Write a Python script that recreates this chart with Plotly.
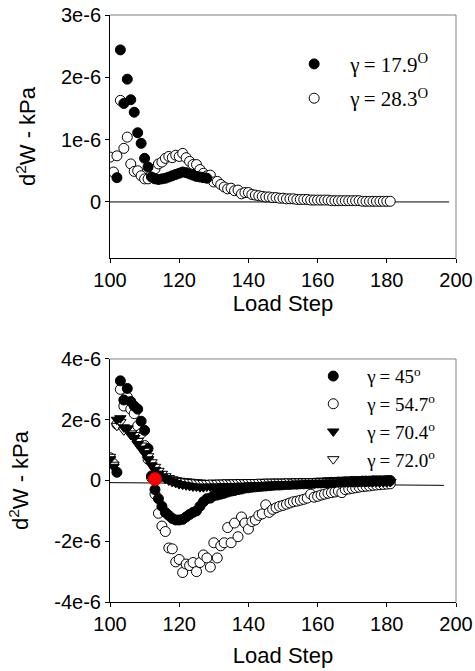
import plotly.graph_objects as go
from plotly.subplots import make_subplots

# ---------------- data (values in units of 1e-6 kPa) ----------------
top_x_179 = list(range(102, 129))
top_y_179 = [0.39, 2.44, 1.58, 1.97, 1.64, 1.44, 1.11, 0.94, 0.70, 0.56, 0.40, 0.37,
             0.36, 0.37, 0.38, 0.40, 0.42, 0.44, 0.46, 0.48, 0.47, 0.45, 0.43, 0.41,
             0.40, 0.39, 0.38]

top_x_283 = list(range(100, 182))
top_y_283 = [0.72, 0.48, 0.74, 1.63, 0.86, 1.04, 0.61, 0.49, 0.50, 0.42, 0.37, 0.37,
             0.44, 0.53, 0.61, 0.64, 0.70, 0.73, 0.71, 0.75, 0.73, 0.78, 0.71, 0.65,
             0.60, 0.60, 0.52, 0.46, 0.42, 0.43, 0.32, 0.33, 0.28, 0.24, 0.21, 0.22,
             0.18, 0.19, 0.13, 0.15, 0.15, 0.12, 0.11, 0.10, 0.09, 0.08, 0.08, 0.07,
             0.07, 0.06, 0.06, 0.05, 0.05, 0.05, 0.04, 0.04, 0.04, 0.04, 0.03, 0.03,
             0.03, 0.03, 0.03, 0.03, 0.02, 0.02, 0.02, 0.02, 0.02, 0.02, 0.02, 0.02,
             0.02, 0.01, 0.01, 0.01, 0.01, 0.01, 0.01, 0.01, 0.01, 0.01]

bot_x_45 = list(range(102, 182))
bot_y_45 = [0.27, 3.28, 2.65, 3.03, 2.60, 2.45, 2.35, 1.95, 1.65, 1.05, 0.15, -0.30,
            -0.60, -0.85, -1.05, -1.15, -1.25, -1.30, -1.30, -1.28, -1.20, -1.12, -1.05, -1.00,
            -0.85, -0.70, -0.60, -0.58, -0.50, -0.48, -0.45, -0.42, -0.38, -0.35, -0.33, -0.30,
            -0.28, -0.25, -0.24, -0.22, -0.21, -0.20, -0.19, -0.18, -0.17, -0.16, -0.15, -0.15,
            -0.14, -0.13, -0.13, -0.12, -0.12, -0.11, -0.11, -0.10, -0.10, -0.09, -0.08, -0.08,
            -0.07, -0.07, -0.06, -0.06, -0.05, -0.05, -0.04, -0.04, -0.03, -0.03, -0.03, -0.02,
            -0.02, -0.02, -0.01, -0.01, -0.01, -0.01, 0.00, 0.00]

bot_x_547 = list(range(100, 182))
bot_y_547 = [0.75, 0.55, 1.85, 3.00, 2.45, 2.75, 2.35, 2.20, 1.80, 1.55, 1.15, 0.70,
             0.10, -0.45, -1.08, -1.50, -1.68, -2.22, -2.25, -2.68, -2.60, -3.03, -2.75, -2.80,
             -2.70, -3.00, -2.70, -2.45, -2.55, -2.85, -2.05, -2.55, -2.15, -2.05, -1.55, -2.05,
             -1.40, -1.85, -1.20, -1.40, -1.60, -1.35, -1.30, -1.15, -1.10, -0.80, -1.05, -0.95,
             -0.90, -0.85, -0.82, -0.78, -0.74, -0.70, -0.68, -0.65, -0.62, -0.58, -0.45, -0.55,
             -0.52, -0.48, -0.45, -0.42, -0.40, -0.38, -0.35, -0.40, -0.30, -0.28, -0.26, -0.24,
             -0.22, -0.20, -0.19, -0.18, -0.16, -0.15, -0.14, -0.13, -0.12, -0.11]

bot_x_704 = list(range(100, 182))
bot_y_704 = [0.70, 0.45, 2.00, 2.05, 1.75, 1.70, 1.50, 1.40, 1.20, 1.05, 0.90, 0.70,
             0.50, 0.35, 0.22, 0.12, 0.05, 0.00, -0.05, -0.08, -0.12, -0.14, -0.16, -0.18,
             -0.20, -0.20, -0.22, -0.22, -0.20, -0.20, -0.22, -0.20, -0.20, -0.19, -0.20, -0.19,
             -0.18, -0.18, -0.17, -0.18, -0.17, -0.16, -0.16, -0.15, -0.15, -0.14, -0.14, -0.13,
             -0.13, -0.12, -0.12, -0.12, -0.11, -0.11, -0.10, -0.10, -0.10, -0.09, -0.09, -0.09,
             -0.08, -0.08, -0.08, -0.07, -0.07, -0.07, -0.07, -0.06, -0.06, -0.06, -0.06, -0.06,
             -0.05, -0.05, -0.05, -0.05, -0.05, -0.05, -0.05, -0.05, -0.05, -0.05]

bot_x_720 = list(range(100, 182))
bot_y_720 = [0.78, 0.52, 1.80, 1.92, 1.65, 1.72, 1.55, 1.50, 1.30, 1.15, 0.98, 0.80,
             0.60, 0.45, 0.32, 0.22, 0.14, 0.08, 0.04, 0.01, -0.01, -0.02, -0.03, -0.04,
             -0.05, -0.06, -0.07, -0.08, -0.08, -0.08, -0.07, -0.08, -0.07, -0.07, -0.06, -0.07,
             -0.06, -0.06, -0.05, -0.06, -0.05, -0.05, -0.05, -0.05, -0.04, -0.05, -0.04, -0.04,
             -0.04, -0.04, -0.04, -0.04, -0.03, -0.04, -0.03, -0.03, -0.03, -0.03, -0.03, -0.03,
             -0.03, -0.03, -0.03, -0.03, -0.03, -0.03, -0.03, -0.03, -0.03, -0.03, -0.03, -0.03,
             -0.04, -0.04, -0.04, -0.04, -0.04, -0.04, -0.05, -0.05, -0.05, -0.05]

red_x = [113]
red_y = [0.05]

x_ticks = [100, 120, 140, 160, 180, 200]
top_yticks = [0, 1, 2, 3]
top_yticktext = ["0", "1e-6", "2e-6", "3e-6"]
bot_yticks = [-4, -2, 0, 2, 4]
bot_yticktext = ["-4e-6", "-2e-6", "0", "2e-6", "4e-6"]
top_zero_line = [(100, 0.0), (198, 0.0)]
bot_zero_line = [(100, -0.07), (196.5, -0.16)]

names_top = ["γ\u2009= 17.9<sup>O</sup>", "γ\u2009= 28.3<sup>O</sup>"]
names_bot = ["γ\u2009= 45<sup>o</sup>", "γ\u2009= 54.7<sup>o</sup>",
             "γ\u2009= 70.4<sup>o</sup>", "γ\u2009= 72.0<sup>o</sup>"]

# ---------------- figure ----------------
fig = make_subplots(rows=2, cols=1, vertical_spacing=0.172)

def sc(y):
    return [v * 1e-6 for v in y]

filled = dict(color="black", size=10, line=dict(color="black", width=1))
opened = dict(color="white", size=10, line=dict(color="black", width=1))

fig.add_trace(go.Scatter(x=top_x_283, y=sc(top_y_283), mode="markers",
                         marker=dict(symbol="circle", **opened),
                         name=names_top[1], legend="legend", legendgroup="b",
                         legendrank=2), 1, 1)
fig.add_trace(go.Scatter(x=top_x_179, y=sc(top_y_179), mode="markers",
                         marker=dict(symbol="circle", **filled),
                         name=names_top[0], legend="legend", legendgroup="a",
                         legendrank=1), 1, 1)

fig.add_trace(go.Scatter(x=bot_x_547, y=sc(bot_y_547), mode="markers",
                         marker=dict(symbol="circle", **opened),
                         name=names_bot[1], legend="legend2", legendgroup="d",
                         legendrank=2), 2, 1)
fig.add_trace(go.Scatter(x=bot_x_45, y=sc(bot_y_45), mode="markers",
                         marker=dict(symbol="circle", **filled),
                         name=names_bot[0], legend="legend2", legendgroup="c",
                         legendrank=1), 2, 1)
fig.add_trace(go.Scatter(x=bot_x_720, y=sc(bot_y_720), mode="markers",
                         marker=dict(symbol="triangle-down", **opened),
                         name=names_bot[3], legend="legend2", legendgroup="f",
                         legendrank=4), 2, 1)
fig.add_trace(go.Scatter(x=bot_x_704, y=sc(bot_y_704), mode="markers",
                         marker=dict(symbol="triangle-down", **filled),
                         name=names_bot[2], legend="legend2", legendgroup="e",
                         legendrank=3), 2, 1)
fig.add_trace(go.Scatter(x=red_x, y=sc(red_y), mode="markers",
                         marker=dict(symbol="circle", color="red", size=13,
                                     line=dict(color="#cc0000", width=1)),
                         showlegend=False), 2, 1)

axis_font = dict(family="Liberation Sans, Arial", size=20, color="black")
title_font = dict(family="Liberation Sans, Arial", size=22, color="black")

for r, sx in ((1, 0), (2, 13)):
    fig.update_xaxes(row=r, col=1, range=[100, 200], tickvals=x_ticks,
                     showline=True, linecolor="black", linewidth=1,
                     ticks="outside", ticklen=4, tickcolor="black",
                     showgrid=False, zeroline=False, tickfont=axis_font,
                     automargin=False,
                     title=dict(text="Load Step", font=title_font, standoff=sx))
    fig.update_yaxes(row=r, col=1, showline=True, linecolor="black", linewidth=1,
                     ticks="outside", ticklen=4, tickcolor="black",
                     showgrid=False, zeroline=False, tickfont=axis_font,
                     automargin=False,
                     title=dict(text="d<sup>2</sup>W - kPa", font=title_font, standoff=19))

fig.update_yaxes(row=1, col=1, range=[-0.9e-6, 3.0e-6],
                 tickvals=sc(top_yticks), ticktext=top_yticktext)
fig.update_yaxes(row=2, col=1, range=[-4e-6, 4e-6],
                 tickvals=sc(bot_yticks), ticktext=bot_yticktext)

# gray top/right frame lines
for xr, yr in (("x domain", "y domain"), ("x2 domain", "y2 domain")):
    fig.add_shape(type="line", xref=xr, yref=yr, x0=0, x1=1, y0=1, y1=1,
                  line=dict(color="#808080", width=1))
    fig.add_shape(type="line", xref=xr, yref=yr, x0=1, x1=1, y0=0, y1=1,
                  line=dict(color="#808080", width=1))

# zero reference lines
fig.add_shape(type="line", xref="x", yref="y",
              x0=top_zero_line[0][0], y0=top_zero_line[0][1] * 1e-6,
              x1=top_zero_line[1][0], y1=top_zero_line[1][1] * 1e-6,
              line=dict(color="black", width=1), layer="below")
fig.add_shape(type="line", xref="x2", yref="y2",
              x0=bot_zero_line[0][0], y0=bot_zero_line[0][1] * 1e-6,
              x1=bot_zero_line[1][0], y1=bot_zero_line[1][1] * 1e-6,
              line=dict(color="black", width=1), layer="below")

fig.update_layout(
    width=475, height=671,
    margin=dict(l=110, r=19, t=15, b=69, autoexpand=False),
    paper_bgcolor="white", plot_bgcolor="white",
    showlegend=True,
    legend=dict(x=0.486, y=0.951, xanchor="left", yanchor="top",
                font=dict(family="Liberation Serif, Times New Roman", size=21, color="black"),
                bgcolor="rgba(0,0,0,0)", itemwidth=62, tracegroupgap=4,
                traceorder="grouped"),
    legend2=dict(x=0.547, y=0.417, xanchor="left", yanchor="top",
                 font=dict(family="Liberation Serif, Times New Roman", size=19, color="black"),
                 bgcolor="rgba(0,0,0,0)", itemwidth=58, tracegroupgap=0,
                 traceorder="grouped"),
)

fig.write_html("out.html", config={"displayModeBar": False},
               post_script="document.body.style.margin='0';document.body.style.overflow='hidden';")
